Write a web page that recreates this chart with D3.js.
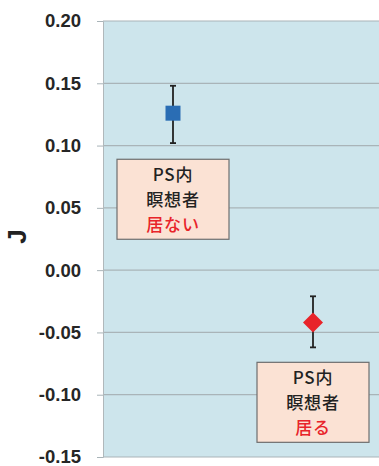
<!DOCTYPE html>
<html>
<head>
<meta charset="utf-8">
<script src="https://cdn.jsdelivr.net/npm/d3@7"></script>
<style>
  body { margin: 0; background: #fff; }
  svg { display: block; font-family: "Liberation Sans", Arial, sans-serif; }
</style>
</head>
<body>
<div id="chart"></div>
<script>
const categories = ["none", "present"];
const values = [0.126, -0.042];
const errLow = [0.102, -0.062];
const errHigh = [0.148, -0.021];
const labelLines = [["PS内", "瞑想者", "居ない"], ["PS内", "瞑想者", "居る"]];
const yTicks = [0.20, 0.15, 0.10, 0.05, 0.00, -0.05, -0.10, -0.15];

const width = 379, height = 466;
const margin = {top: 21, right: -4, bottom: 9, left: 103};
const innerW = width - margin.left - margin.right;
const innerH = height - margin.top - margin.bottom;

const svg = d3.select("#chart").append("svg")
    .attr("width", width)
    .attr("height", height);

const g = svg.append("g").attr("transform", `translate(${margin.left},${margin.top})`);

const x = d3.scaleBand().domain(categories).range([0, innerW]);
const y = d3.scaleLinear().domain([-0.15, 0.20]).range([innerH, 0]);

g.append("rect")
    .attr("width", innerW)
    .attr("height", innerH)
    .attr("fill", "#cde5ec");

// gridlines
g.selectAll(".grid")
    .data(yTicks)
    .enter()
    .append("line")
    .attr("x1", 0).attr("x2", innerW)
    .attr("y1", d => y(d)).attr("y2", d => y(d))
    .attr("stroke", "#a9b4b8")
    .attr("stroke-width", 1.2);

const fmt = d3.format(".2f");
const yAxis = g.append("g")
    .call(d3.axisLeft(y).tickValues(yTicks)
        .tickFormat(d => fmt(d).replace("−", "-"))
        .tickSize(6).tickPadding(16));
yAxis.select(".domain").attr("stroke", "#b0b8bb");
yAxis.selectAll(".tick line").attr("stroke", "#a9b4b8");
yAxis.selectAll("text")
    .attr("font-size", 18.5)
    .attr("font-weight", "bold")
    .attr("fill", "#262626");

svg.append("text")
    .attr("transform", `translate(26,${margin.top + y(0.027)}) rotate(-90)`)
    .attr("text-anchor", "middle")
    .attr("font-size", 26)
    .attr("font-weight", "bold")
    .attr("fill", "#222")
    .text("J");

const cx = d => x(d) + x.bandwidth() / 2;

// error bars
categories.forEach((c, i) => {
    const px = cx(c);
    g.append("line").attr("x1", px).attr("x2", px)
        .attr("y1", y(errHigh[i])).attr("y2", y(errLow[i]))
        .attr("stroke", "#222").attr("stroke-width", 1.8);
    [errHigh[i], errLow[i]].forEach(v => {
        g.append("line").attr("x1", px - 3).attr("x2", px + 3)
            .attr("y1", y(v)).attr("y2", y(v))
            .attr("stroke", "#222").attr("stroke-width", 1.8);
    });
});

// markers
g.append("path")
    .attr("d", d3.symbol(d3.symbolSquare, 225)())
    .attr("transform", `translate(${cx(categories[0])},${y(values[0])})`)
    .attr("fill", "#2a6db4");
g.append("path")
    .attr("d", "M0,-10L10,0L0,10L-10,0Z")
    .attr("transform", `translate(${cx(categories[1])},${y(values[1])})`)
    .attr("fill", "#e8242a");

// label boxes
const boxW = 112, boxH = 80;
const boxTop = [y(0.089), y(-0.074)];
categories.forEach((c, i) => {
    const bx = cx(c) - 56;
    const by = boxTop[i];
    g.append("rect")
        .attr("x", bx).attr("y", by)
        .attr("width", boxW).attr("height", boxH)
        .attr("fill", "#fbe2d4")
        .attr("stroke", "#6e6e6e")
        .attr("stroke-width", 1.2);
    labelLines[i].forEach((t, j) => {
        g.append("text")
            .attr("x", cx(c))
            .attr("y", by + 22 + j * 25)
            .attr("text-anchor", "middle")
            .attr("font-family", "'Noto Sans CJK JP', 'Liberation Sans', sans-serif")
            .attr("font-size", 17)
            .attr("font-weight", 500)
            .attr("letter-spacing", 0.8)
            .attr("fill", j === 2 ? "#e8242a" : "#222")
            .text(t);
    });
});
</script>
</body>
</html>
